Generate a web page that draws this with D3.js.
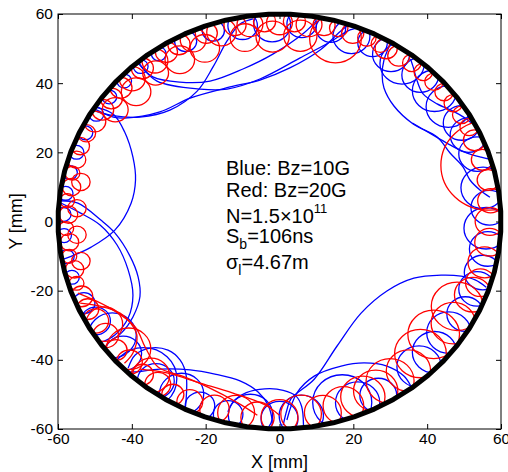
<!DOCTYPE html>
<html>
<head>
<meta charset="utf-8">
<script src="https://cdn.jsdelivr.net/npm/d3@7"></script>
<style>
  body { margin: 0; background: #fff; }
  text { font-family: "Liberation Sans", Arial, Helvetica, sans-serif; fill: #000; }
</style>
</head>
<body>
<svg id="chart" width="508" height="472"></svg>
<script>
// axis ticks (mm)
const xTicks = [-60, -40, -20, 0, 20, 40, 60];
const yTicks = [-60, -40, -20, 0, 20, 40, 60];
const pipeRadius = 60;

// annotation lines: [text, shift] with shift 1 = superscript, -1 = subscript
const noteLines = [
  [["Blue: Bz=10G", 0]],
  [["Red: Bz=20G", 0]],
  [["N=1.5\u00d710", 0], ["11", 1]],
  [["S", 0], ["b", -1], ["=106ns", 0]],
  [["\u03c3", 0], ["l", -1], ["=4.67m", 0]]
];

// long electron tracks, [x, y] in mm
const blueTracks = [
  [[-50, 32.5], [-45, 30.2], [-41.9, 29.9], [-32.4, 31.7], [-24.2, 35.7], [-13.4, 38.9], [-5.3, 40.9], [2.8, 44.4], [11, 49.6], [16.9, 55.4], [19, 57]],
  [[-7.2, 58.6], [-10.7, 57.1], [-14.2, 52.2], [-18, 44.7], [-22.3, 37.7], [-29.7, 32.2], [-37.8, 30.2], [-45.1, 30.6], [-50, 32]],
  [[-39, 47], [-38.3, 45.8], [-34.3, 41.8], [-27, 40.3], [-18.8, 40.6], [-9.9, 44.1], [-1.8, 48.4], [6.6, 54.5], [10, 58]],
  [[-38, 46], [-37.5, 45], [-33.2, 40.6], [-21.5, 38.3], [-14.2, 38.3], [-5.3, 41.2], [5.6, 47.3], [13.7, 51.9], [19.1, 55.4], [22, 56]],
  [[-49.5, 33], [-45, 31], [-42, 26], [-39.7, 18.6], [-39, 12], [-40.2, 5.3], [-44.6, -2.5], [-51, -7.4], [-57, -10.3], [-59, -11]],
  [[30.5, 52.5], [28.3, 46.7], [27.8, 42.4], [28.3, 38.6], [31, 33.4], [36.2, 28.2], [42.7, 24.4], [46.2, 19.8], [49.7, 15.8], [51.6, 12], [54.3, 9.1], [57, 7]],
  [[36, 28.5], [43.8, 23.6], [47.3, 21.5], [50.8, 19.8], [54.6, 18.6], [57, 18]],
  [[35.5, 47], [36.2, 44.7], [37.3, 40.6], [38.9, 36.9], [42.7, 34], [47, 31.9], [50.3, 29.9], [52, 28.5]],
  [[1, -58.9], [2, -54.5], [3.1, -51.3], [9.4, -45.6], [15.6, -36], [22.1, -26.5], [29.1, -20.1], [36.4, -16.4], [43.8, -15.5], [49.2, -15.8], [53, -16.9], [56, -19]],
  [[2, -57.4], [4.7, -49.6], [9.4, -44.7], [16.7, -41.8], [22.9, -40.9], [29.1, -41.8], [33.7, -44.7], [35.6, -47.6], [36, -48.5]],
  [[-59.5, 5.5], [-54, 2.5], [-48.6, -1], [-44, -6.8], [-41, -14], [-39.7, -21.3], [-41, -27.9], [-44.6, -32.8], [-48.6, -35.1]],
  [[-59.5, 6], [-54.6, 5.3], [-48.4, 0.4], [-44.6, -3.3], [-40.5, -10], [-38.3, -16], [-37.8, -21.7], [-39.7, -27.6], [-42.8, -32.2], [-45.6, -34.3]],
  [[-41, -43.5], [-39.1, -43.5], [-32.4, -42.7], [-24.2, -42.9], [-17.5, -44.1], [-10.7, -46.1], [-5.8, -49.3], [-3.1, -53.1], [-2, -57.4], [-2, -59]],
  [[-41, -42.4], [-39.1, -38.6], [-35.1, -36.6], [-30.2, -37.2], [-26.9, -40.1], [-25.3, -44.4], [-25.5, -54]],
  [[-14, -55], [-12, -51.5], [-9, -49.5], [-4, -48.4], [1, -48.8], [4.5, -50.5], [6, -53.5], [6.5, -59]]
];

const redTracks = [
  [[-54.6, -20.7], [-46.5, -24.7], [-39.1, -30.5], [-36.4, -36.3], [-32.9, -42.1], [-25.6, -45], [-19.4, -47.9], [-11.2, -52.5], [-6, -56]],
  [[-54, -23.6], [-48.6, -24.5], [-43.2, -26.5], [-39.7, -30.3], [-38.6, -33.1], [-39.7, -38], [-42, -41]],
  [[-37.8, -42.7], [-30.5, -43.8], [-21.5, -46.7], [-12.6, -49.6], [-4, -53], [0, -56]]
];

// gyration loops near the wall: [angle deg, radius mm, depth of centre inside wall mm]
const blueLoops = [
  [64, 4, 2.5], [70, 5, 3], [76, 4, 2.5], [84, 4, 2.5], [92, 5, 3], [100, 4, 2.5], [108, 3, 2], [116, 3, 2],
  [124, 2, 1.5], [130, 2, 1.5], [136, 2, 1.5], [142, 2, 1.5], [148, 2, 1.5], [154, 2, 1.5], [160, 2, 1.5], [166, 2, 1.5],
  [172, 2, 1.5], [178, 2, 1.5], [184, 2, 1.5], [190, 2, 1.5], [196, 2, 1.5],
  [204, 3, 2], [210, 4, 2.5], [216, 6.5, 4], [222, 5, 3], [231, 9, 1.5], [234, 5, 3], [242, 6, 3.5], [248, 4, 2.5],
  [256, 4, 2.5], [262, 6, 3.5], [270, 5, 3], [276, 6, 3.5], [288, 8, 5], [292, 6, 3.5], [298, 5, 3],
  [312, 6, 3.5], [318, 6, 3.5], [325, 6, 4], [332, 5, 3], [340, 5, 3], [345, 5, 3], [352, 5, 3], [358, 6, 4],
  [4, 5, 3], [10, 6, 4], [20, 5, 3], [26, 5, 3],
  [30, 5, 3], [36, 6, 3.5], [42, 6, 3.5], [48, 5, 3], [54, 6, 3.5], [58, 5, 3]
];

const redLoops = [
  [62, 2.5, 1.8], [66, 2.5, 1.8], [70, 3, 2], [74, 2.5, 1.8], [78, 3, 2], [82, 3.5, 2.5], [86, 3, 2], [90, 3.5, 2.5],
  [94, 3, 2], [98, 3.5, 2.5], [102, 3, 2], [106, 4, 3], [110, 3, 2], [114, 3.5, 2.5], [118, 3, 2],
  [74, 7, 5], [84, 4.5, 6], [92, 4.5, 6.5], [100, 4, 6], [112, 4, 6], [120, 4, 6], [128, 3.5, 5.5], [136, 4, 6], [144, 3.5, 5],
  [122, 3, 2.2], [126, 3.5, 2.6], [130, 3, 2.2], [134, 3.5, 2.6], [138, 3, 2.2], [142, 3, 2.2], [146, 3, 2.2], [150, 3, 2.2],
  [154, 2.5, 1.8], [158, 2.5, 1.8],
  [162, 2.5, 2.2], [166, 2, 2.2], [170, 2.5, 2.8], [174, 2, 2.2], [178, 2.5, 2.8], [182, 2, 2.2], [186, 2.5, 2.8], [190, 2, 2.2],
  [194, 2.5, 2.8], [198, 2, 2.2], [168, 2.5, 5], [176, 2.5, 5], [184, 2.5, 5], [192, 2.5, 5],
  [202, 3, 2.2], [206, 3, 2.2], [210, 3.5, 2.5], [215, 3.5, 2.5], [220, 3, 2.2], [225, 3.5, 2.5], [230, 3, 2.2], [235, 3.5, 2.5],
  [240, 3, 2.2], [245, 3.5, 2.5], [212, 5, 4], [222, 6, 5], [232, 5, 3.5],
  [252, 4, 3], [258, 5, 3.5], [264, 4.5, 3], [270, 5, 3.5], [276, 5.5, 4], [282, 5, 3.5], [288, 5.5, 4],
  [294, 6, 4.5], [298, 6, 4.5], [303, 6.5, 5], [309, 6, 4.5], [315, 7, 6], [322, 7, 7], [328, 6, 4.5], [333, 7, 6], [338, 5, 3.5],
  [342, 4, 2.8], [348, 4.5, 3.2], [354, 4, 2.8], [0, 4, 3], [6, 3.5, 2.5], [12, 3, 2.2], [16, 13, 1], [18, 3, 2.2], [24, 3, 2.2],
  [28, 2.5, 1.8], [32, 2.5, 1.8], [36, 2.5, 1.8], [40, 2.5, 1.8], [44, 2.5, 1.8], [48, 2.5, 1.8], [52, 2.5, 1.8], [56, 3, 2.2], [60, 3, 2.2]
];

const svg = d3.select("#chart");
const plot = { left: 58, right: 501, top: 14, bottom: 429 };

const x = d3.scaleLinear().domain([-60, 60]).range([plot.left, plot.right]);
const y = d3.scaleLinear().domain([-60, 60]).range([plot.bottom, plot.top]);

// clip everything to the inside of the beam pipe
svg.append("defs").append("clipPath").attr("id", "pipe")
  .append("ellipse")
  .attr("cx", x(0)).attr("cy", y(0))
  .attr("rx", x(pipeRadius) - x(0)).attr("ry", y(0) - y(pipeRadius));

const inside = svg.append("g").attr("clip-path", "url(#pipe)");

const line = d3.line()
  .x(d => x(d[0]))
  .y(d => y(d[1]))
  .curve(d3.curveCatmullRom.alpha(0.5));

function drawLoops(data, color) {
  inside.append("g")
    .selectAll("ellipse")
    .data(data)
    .join("ellipse")
    .attr("cx", d => x((pipeRadius - d[2]) * Math.cos(d[0] * Math.PI / 180)))
    .attr("cy", d => y((pipeRadius - d[2]) * Math.sin(d[0] * Math.PI / 180)))
    .attr("rx", d => x(d[1]) - x(0))
    .attr("ry", d => y(0) - y(d[1]))
    .attr("fill", "none")
    .attr("stroke", color)
    .attr("stroke-width", 1.3);
}

function drawTracks(data, color) {
  inside.append("g")
    .selectAll("path")
    .data(data)
    .join("path")
    .attr("d", line)
    .attr("fill", "none")
    .attr("stroke", color)
    .attr("stroke-width", 1.3);
}

drawLoops(blueLoops, "#0000ff");
drawTracks(blueTracks, "#0000ff");
drawLoops(redLoops, "#ff0000");
drawTracks(redTracks, "#ff0000");

// the pipe wall, a many-sided polygon like the original
const wallSides = 64;
const wall = d3.range(wallSides).map(i => {
  const a = (i + 0.5) * 2 * Math.PI / wallSides;
  return [pipeRadius * Math.cos(a), pipeRadius * Math.sin(a)];
});
svg.append("path")
  .attr("d", d3.line().x(d => x(d[0])).y(d => y(d[1])).curve(d3.curveLinearClosed)(wall))
  .attr("fill", "none")
  .attr("stroke", "#000")
  .attr("stroke-width", 5)
  .attr("stroke-linejoin", "round");

// axes: ticks inside on all four sides, labels on bottom and left
const fmt = d => String(d);
const axes = [
  { axis: d3.axisBottom(x).tickValues(xTicks).tickFormat(fmt), at: `translate(0,${plot.bottom})` },
  { axis: d3.axisTop(x).tickValues(xTicks).tickFormat(""), at: `translate(0,${plot.top})` },
  { axis: d3.axisLeft(y).tickValues(yTicks).tickFormat(fmt), at: `translate(${plot.left},0)` },
  { axis: d3.axisRight(y).tickValues(yTicks).tickFormat(""), at: `translate(${plot.right},0)` }
];
axes.forEach((a, i) => {
  const g = svg.append("g")
    .attr("transform", a.at)
    .call(a.axis.tickSizeInner(-5).tickSizeOuter(0).tickPadding(i === 0 ? 3.5 : 5));
  g.select(".domain").remove();
  g.selectAll("text").attr("font-size", 15.5).attr("font-family", null).attr("fill", "#000");
});

svg.append("rect")
  .attr("x", plot.left).attr("y", plot.top)
  .attr("width", plot.right - plot.left).attr("height", plot.bottom - plot.top)
  .attr("fill", "none").attr("stroke", "#000").attr("stroke-width", 1);

svg.append("text")
  .attr("x", x(0)).attr("y", 468)
  .attr("text-anchor", "middle").attr("font-size", 18)
  .text("X [mm]");

svg.append("text")
  .attr("transform", `translate(22,${y(0)}) rotate(-90)`)
  .attr("text-anchor", "middle").attr("font-size", 18)
  .text("Y [mm]");

// parameter annotation
const noteBase = [175, 197, 223, 243, 269];
const note = svg.append("g").attr("font-size", 20);
noteLines.forEach((parts, i) => {
  const t = note.append("text").attr("x", 226).attr("y", noteBase[i]);
  parts.forEach((p, j) => {
    const s = t.append("tspan").text(p[0]);
    if (p[1] === 1) s.attr("font-size", 13).attr("dy", -10);
    if (p[1] === -1) s.attr("font-size", 14).attr("dy", 6);
    if (p[1] === 0 && j > 0 && parts[j - 1][1] === -1) s.attr("dy", -6);
  });
});
</script>
</body>
</html>
